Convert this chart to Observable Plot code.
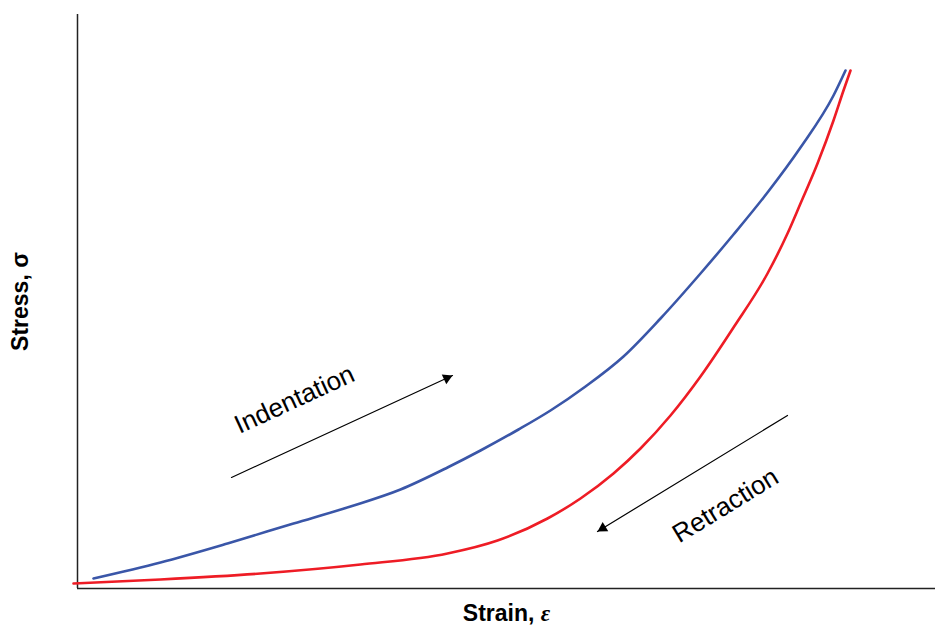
<!DOCTYPE html>
<html><head><meta charset="utf-8">
<script src="https://cdn.jsdelivr.net/npm/d3@7"></script>
<script src="https://cdn.jsdelivr.net/npm/@observablehq/plot@0.6"></script>
<style>body{margin:0;background:#fff;} svg{font-family:"Liberation Sans",Arial,sans-serif;}</style>
</head><body><div id="chart"></div>
<script>
// Indentation (loading) curve, strain vs stress (arbitrary units)
const indentStrain = [16, 83, 150, 216, 273, 323, 370, 403, 441, 473, 508, 546, 583, 623, 656, 690, 723, 756, 768];
const indentStress = [10, 26, 45, 65, 82, 99, 121, 138, 159, 178, 202, 232, 270, 315, 354, 396, 441, 493, 518];
// Retraction (unloading) curve
const retractStrain = [-4, 83, 183, 283, 370, 420, 470, 503, 536, 563, 593, 623, 656, 690, 710, 723, 740, 756, 766, 773];
const retractStress = [5, 9, 15, 24, 35, 48, 70, 90, 115, 140, 173, 212, 261, 315, 355, 385, 425, 468, 498, 518];
// Annotation arrows and labels
const arrows = [
  {name: "Indentation", x1: 154, y1: 111, x2: 375, y2: 213, tx: 217, ty: 189, angle: -24.8},
  {name: "Retraction", x1: 710, y1: 173, x2: 520, y2: 57, tx: 648, ty: 83, angle: -31.4}
];
const xLabelText = "Strain, ";
const xLabelSymbol = "ε";
const yLabel = "Stress, σ";

const indent = indentStrain.map((x, i) => ({x, y: indentStress[i]}));
const retract = retractStrain.map((x, i) => ({x, y: retractStress[i]}));

const headR = 4;
const tipDist = 2 * Math.sqrt(Math.PI * headR * headR / (Math.sqrt(3) * 3));
function headMark(a) {
  // screen direction of the arrow (y flipped)
  const vx = a.x2 - a.x1, vy = -(a.y2 - a.y1);
  const len = Math.hypot(vx, vy);
  const ux = vx / len, uy = vy / len;
  const rot = Math.atan2(ux, -uy) * 180 / Math.PI;
  return Plot.dot([a], {x: "x2", y: "y2", symbol: "triangle", r: headR, fill: "black", stroke: "none",
    rotate: rot, dx: -ux * tipDist, dy: -uy * tipDist});
}

const chart = Plot.plot({
  width: 935, height: 633,
  marginLeft: 77, marginRight: 0, marginTop: 14, marginBottom: 45,
  x: {domain: [0, 858], axis: null},
  y: {domain: [0, 574], axis: null},
  marks: [
    Plot.ruleX([0], {stroke: "#222", strokeWidth: 1.5}),
    Plot.ruleY([0], {stroke: "#222", strokeWidth: 1.5}),
    Plot.line(indent, {x: "x", y: "y", stroke: "#3A56A8", strokeWidth: 2.6, curve: "monotone-x", clip: false}),
    Plot.line(retract, {x: "x", y: "y", stroke: "#EE1C25", strokeWidth: 2.6, curve: "monotone-x", clip: false}),
    Plot.arrow(arrows, {x1: "x1", y1: "y1", x2: "x2", y2: "y2", stroke: "black", strokeWidth: 1.2, headLength: 0}),
    ...arrows.map(headMark),
    ...arrows.map(a => Plot.text([a], {x: "tx", y: "ty", text: "name", rotate: a.angle, fontSize: 26, fill: "black"})),
    Plot.text([yLabel], {frameAnchor: "left", textAnchor: "middle", rotate: -90, dx: -57, dy: 0, fontSize: 23, fontWeight: "bold", fill: "black"}),
    Plot.text([xLabelText + xLabelSymbol], {frameAnchor: "bottom", textAnchor: "middle", dy: 32, fontSize: 23, fontWeight: "bold", fill: "black", className: "xlabel"})
  ]
});
document.getElementById("chart").append(chart);
// Italic serif epsilon as in the reference
d3.select(chart).selectAll(".xlabel text").each(function() {
  const t = d3.select(this);
  t.text(null);
  t.append("tspan").text(xLabelText);
  t.append("tspan").attr("font-style", "italic").attr("font-family", "'Liberation Serif', serif").text(xLabelSymbol);
});
</script>
</body></html>
